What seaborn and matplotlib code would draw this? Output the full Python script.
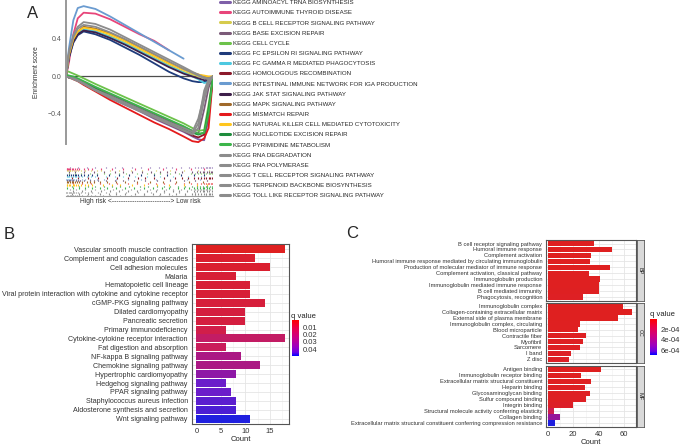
import numpy as np
import pandas as pd
import seaborn as sns
import matplotlib.pyplot as plt
from matplotlib.colors import LinearSegmentedColormap, Normalize
from matplotlib.cm import ScalarMappable
from matplotlib.lines import Line2D

nan = np.nan

# ---- panel A: GSEA running enrichment scores (high vs low risk)
kegg_sets = [
    "KEGG AMINOACYL TRNA BIOSYNTHESIS", "KEGG AUTOIMMUNE THYROID DISEASE",
    "KEGG B CELL RECEPTOR SIGNALING PATHWAY", "KEGG BASE EXCISION REPAIR",
    "KEGG CELL CYCLE", "KEGG FC EPSILON RI SIGNALING PATHWAY",
    "KEGG FC GAMMA R MEDIATED PHAGOCYTOSIS", "KEGG HOMOLOGOUS RECOMBINATION",
    "KEGG INTESTINAL IMMUNE NETWORK FOR IGA PRODUCTION", "KEGG JAK STAT SIGNALING PATHWAY",
    "KEGG MAPK SIGNALING PATHWAY", "KEGG MISMATCH REPAIR",
    "KEGG NATURAL KILLER CELL MEDIATED CYTOTOXICITY", "KEGG NUCLEOTIDE EXCISION REPAIR",
    "KEGG PYRIMIDINE METABOLISM", "KEGG RNA DEGRADATION", "KEGG RNA POLYMERASE",
    "KEGG T CELL RECEPTOR SIGNALING PATHWAY", "KEGG TERPENOID BACKBONE BIOSYNTHESIS",
    "KEGG TOLL LIKE RECEPTOR SIGNALING PATHWAY",
]
kegg_colors = [
    "#7E5FA8", "#E8457A", "#D6CB4C", "#7B5A78", "#6CC24A", "#1F3B7A", "#4DC8E0",
    "#8B1A2B", "#6A9BD0", "#3D1F4A", "#A0692A", "#E41A1C", "#FFC61E", "#1E8C3C",
    "#3CB54A", "#8C8C8C", "#8C8C8C", "#8C8C8C", "#8C8C8C", "#8C8C8C",
]
es_rank = [0, 2, 5, 8, 12, 20, 30, 40, 50, 60, 70, 80, 86, 90, 94, 97, 100]
es_scores = [
    [0, -0.01, -0.02, -0.04, -0.08, -0.15, -0.23, -0.30, -0.37, -0.45, -0.52, -0.59, -0.64, -0.67, -0.68, -0.45, 0],
    [0, 0.15, 0.45, 0.62, 0.68, 0.67, 0.61, 0.53, 0.45, 0.38, 0.28, nan, nan, nan, nan, nan, nan],
    [0, 0.24, 0.40, 0.47, 0.50, 0.48, 0.43, 0.36, 0.28, 0.20, 0.12, 0.05, 0.02, 0.00, -0.02, -0.01, 0],
    [0, -0.01, -0.02, -0.03, -0.06, -0.12, -0.19, -0.26, -0.33, -0.40, -0.47, -0.54, -0.58, -0.61, -0.35, -0.12, 0],
    [0.06, 0.05, 0.03, 0.01, -0.02, -0.08, -0.15, -0.22, -0.29, -0.36, -0.43, -0.50, -0.55, -0.58, -0.57, -0.30, 0],
    [0, 0.20, 0.36, 0.44, 0.48, 0.45, 0.39, 0.31, 0.23, 0.14, 0.05, -0.02, -0.05, -0.06, -0.06, -0.04, 0],
    [0, 0.22, 0.38, 0.46, 0.50, 0.48, 0.42, 0.35, 0.27, 0.19, 0.11, 0.04, 0.00, -0.03, -0.07, -0.06, 0],
    [0, -0.01, -0.02, -0.04, -0.07, -0.14, -0.22, -0.29, -0.36, -0.44, -0.51, -0.58, -0.63, -0.65, -0.62, -0.40, 0],
    [0, 0.30, 0.60, 0.73, 0.75, 0.72, 0.64, 0.55, 0.46, 0.37, 0.28, 0.19, nan, nan, nan, nan, nan],
    [0, 0.21, 0.37, 0.45, 0.49, 0.47, 0.41, 0.34, 0.26, 0.18, 0.10, 0.03, 0.00, -0.02, -0.04, -0.03, 0],
    [0, 0.24, 0.40, 0.48, 0.53, 0.51, 0.46, 0.39, 0.31, 0.23, 0.15, 0.08, 0.04, 0.02, 0.00, -0.01, 0],
    [0, -0.01, -0.03, -0.05, -0.09, -0.16, -0.25, -0.33, -0.41, -0.49, -0.56, -0.64, -0.69, -0.70, -0.66, -0.55, 0],
    [0, 0.23, 0.40, 0.48, 0.52, 0.50, 0.45, 0.38, 0.30, 0.22, 0.14, 0.07, 0.04, 0.02, 0.01, 0.00, 0],
    [0, -0.01, -0.02, -0.04, -0.07, -0.13, -0.21, -0.28, -0.35, -0.42, -0.49, -0.56, -0.60, -0.62, -0.60, -0.35, 0],
    [0.02, 0.01, 0.00, -0.02, -0.05, -0.11, -0.18, -0.25, -0.32, -0.39, -0.46, -0.53, -0.58, -0.61, -0.60, -0.40, 0],
    [0, -0.01, -0.02, -0.04, -0.07, -0.14, -0.21, -0.28, -0.35, -0.42, -0.49, -0.55, -0.59, -0.45, -0.20, -0.05, 0],
    [0, -0.01, -0.03, -0.05, -0.08, -0.15, -0.23, -0.30, -0.37, -0.44, -0.51, -0.58, -0.62, -0.55, -0.25, -0.08, 0],
    [0, 0.27, 0.44, 0.53, 0.58, 0.56, 0.50, 0.42, 0.34, 0.26, 0.18, 0.10, 0.05, 0.02, -0.01, -0.02, 0],
    [0, -0.01, -0.02, -0.04, -0.08, -0.15, -0.22, -0.29, -0.36, -0.43, -0.50, -0.57, -0.61, -0.50, -0.15, -0.03, 0],
    [0, 0.25, 0.42, 0.51, 0.55, 0.53, 0.47, 0.40, 0.32, 0.24, 0.16, 0.08, 0.04, 0.01, -0.02, -0.03, 0],
]
rug_hits = [
    [3, 8, 14, 20, 27, 33, 38, 45, 51, 57, 63, 68, 72, 78, 84, 88, 90, 92, 93, 95, 96, 97, 98, 99],
    [0.5, 1, 1.5, 2, 3, 4, 5, 6, 7.5, 9, 12, 15, 18, 24, 31, 39, 47, 56, 66, 75, 85, 94],
    [0.5, 1.5, 2.5, 3, 4, 5.5, 7, 8, 10, 13, 17, 21, 24, 30, 36, 44, 52, 61, 71, 80, 90, 97],
    [2, 6, 12, 19, 26, 33, 39, 45, 52, 58, 64, 69, 74, 79, 86, 89, 91, 93, 94, 96, 97, 98.5, 99.5],
    [2, 6, 10, 16, 21, 26, 30, 36, 41, 48, 55, 60, 64, 71, 77, 85, 88, 90, 92, 94, 95, 97, 98, 99],
    [1, 2, 3.5, 4.5, 6, 7, 8.5, 10, 12, 15, 18, 21, 29, 36, 43, 51, 60, 69, 78, 87, 94],
    [0.5, 1.5, 2, 3.5, 5, 6, 7, 9, 11, 14, 17, 20, 27, 33, 39, 47, 55, 64, 73, 83, 92],
    [4, 8, 15, 22, 28, 35, 42, 49, 54, 60, 67, 74, 79, 83, 87, 90, 92, 94, 95, 97, 98, 99],
    [0.3, 0.8, 1.2, 2, 2.8, 3.5, 4.5, 5.5, 7, 8.5, 11, 13, 16, 21, 26, 34, 42, 51, 61, 71, 82, 91],
    [1, 2, 3, 4, 5, 6.5, 8, 9.5, 12, 16, 19, 22, 27, 33, 39, 46, 54, 62, 71, 80, 88, 96],
    [0.5, 1.5, 2.5, 4, 5, 6, 7.5, 9, 11, 14, 16, 19, 23, 28, 34, 40, 48, 57, 66, 75, 84, 93],
    [5, 11, 17, 23, 29, 35, 42, 48, 56, 61, 67, 74, 80, 85, 89, 92, 94, 95, 96.5, 97.5, 98.5, 99.5],
    [0.5, 1, 2, 3, 4.5, 5.5, 7, 8, 10, 13, 15, 18, 25, 31, 37, 45, 53, 62, 70, 80, 89, 96],
    [4, 9, 15, 20, 26, 31, 37, 43, 50, 56, 62, 67, 71, 76, 81, 86, 89, 91, 93, 95, 96, 98, 99],
    [1, 5, 9, 13, 18, 23, 28, 34, 40, 46, 53, 59, 65, 70, 76, 80, 84, 87, 89, 91, 93, 94, 96, 97, 99],
    [3, 7, 13, 20, 26, 32, 38, 44, 50, 57, 62, 68, 73, 78, 85, 88, 90, 92, 93, 95, 96, 98],
    [5, 11, 17, 24, 30, 36, 42, 48, 55, 61, 67, 73, 77, 82, 87, 89, 91, 93, 94, 96, 97, 99],
    [0.3, 1, 1.8, 2.5, 3.5, 4.5, 5.5, 7, 8.5, 10, 13, 15, 18, 22, 27, 34, 41, 49, 58, 67, 77, 88],
    [4, 9, 15, 23, 29, 34, 40, 47, 53, 59, 64, 70, 75, 81, 86, 88, 90, 92, 94, 95, 97, 98, 99.5],
    [0.5, 1.5, 2.5, 3.5, 4.5, 6, 7.5, 9, 11, 14.5, 17, 20, 25, 30, 37, 44, 53, 63, 72, 81, 88, 95],
]

# ---- panel B: KEGG enrichment
kegg_terms = [
    "Vascular smooth muscle contraction", "Complement and coagulation cascades",
    "Cell adhesion molecules", "Malaria", "Hematopoietic cell lineage",
    "Viral protein interaction with cytokine and cytokine receptor",
    "cGMP-PKG signaling pathway", "Dilated cardiomyopathy", "Pancreatic secretion",
    "Primary immunodeficiency", "Cytokine-cytokine receptor interaction",
    "Fat digestion and absorption", "NF-kappa B signaling pathway",
    "Chemokine signaling pathway", "Hypertrophic cardiomyopathy",
    "Hedgehog signaling pathway", "PPAR signaling pathway",
    "Staphylococcus aureus infection", "Aldosterone synthesis and secretion",
    "Wnt signaling pathway",
]
kegg_count = [18, 12, 15, 8, 11, 11, 14, 10, 10, 6, 18, 6, 9, 13, 8, 6, 7, 8, 8, 11]
kegg_q = [0.0002, 0.0035, 0.0035, 0.005, 0.005, 0.005, 0.006, 0.007, 0.007, 0.009,
          0.016, 0.013, 0.026, 0.026, 0.036, 0.044, 0.044, 0.045, 0.046, 0.049]

# ---- panel C: GO enrichment
go_terms = [
    "B cell receptor signaling pathway", "Humoral immune response", "Complement activation",
    "Humoral immune response mediated by circulating immunoglobulin",
    "Production of molecular mediator of immune response",
    "Complement activation, classical pathway", "Immunoglobulin production",
    "Immunoglobulin mediated immune response", "B cell mediated immunity",
    "Phagocytosis, recognition",
    "Immunoglobulin complex", "Collagen-containing extracellular matrix",
    "External side of plasma membrane", "Immunoglobulin complex, circulating",
    "Blood microparticle", "Contractile fiber", "Myofibril", "Sarcomere", "I band", "Z disc",
    "Antigen binding", "Immunoglobulin receptor binding",
    "Extracellular matrix structural constituent", "Heparin binding",
    "Glycosaminoglycan binding", "Sulfur compound binding", "Integrin binding",
    "Structural molecule activity conferring elasticity", "Collagen binding",
    "Extracellular matrix structural constituent conferring compression resistance",
]
go_ont = ["BP"] * 10 + ["CC"] * 10 + ["MF"] * 10
go_count = [36, 50, 34, 33, 49, 32, 41, 40, 40, 28,
            59, 66, 55, 25, 24, 30, 28, 25, 18, 17,
            42, 26, 34, 29, 33, 30, 20, 5, 10, 6]
go_q = [1.5e-5, 1.5e-5, 1.6e-5, 1.6e-5, 1.7e-5, 1.8e-5, 2e-5, 2e-5, 2.2e-5, 3e-5,
        1.5e-5, 1.5e-5, 1.6e-5, 1.8e-5, 2e-5, 2.2e-5, 2.5e-5, 2.8e-5, 3.2e-5, 3.5e-5,
        1.6e-5, 1.8e-5, 2e-5, 2.4e-5, 2.6e-5, 3e-5, 4e-5, 1.6e-4, 4.6e-4, 6.8e-4]

sns.set_theme(style="white")
plt.rcParams['font.family'] = ['Liberation Sans', 'DejaVu Sans']

W, H = 680, 448


def box(x0, y0, x1, y1):
    return [x0 / W, 1 - y1 / H, (x1 - x0) / W, (y1 - y0) / H]


cmap = LinearSegmentedColormap.from_list(
    "q", [(0, "#FF0000"), (0.25, "#E80050"), (0.5, "#C90089"),
          (0.75, "#9A00C2"), (0.9, "#6800E7"), (1, "#0000FF")])

fig = plt.figure(figsize=(6.8, 4.48), dpi=100)
fig.patch.set_facecolor("white")

# ---------------- A
rows = []
for name, vals in zip(kegg_sets, es_scores):
    for r, v in zip(es_rank, vals):
        if not np.isnan(v):
            rows.append((name, r, v))
df_es = pd.DataFrame(rows, columns=["pathway", "rank", "es"])
pal_a = dict(zip(kegg_sets, kegg_colors))

ax = fig.add_axes(box(66, 0.5, 213, 144))
ax.axhline(0, color="#4D4D4D", lw=0.9, zorder=1)
sns.lineplot(data=df_es, x="rank", y="es", hue="pathway", hue_order=kegg_sets,
             palette=pal_a, estimator=None, sort=False, lw=1.3, legend=False, ax=ax)
ax.set_xlim(0, 100)
ax.set_ylim(-0.72, 0.81)
ax.set_yticks([-0.4, 0.0, 0.4])
ax.set_xticks([])
ax.set_xlabel("")
ax.set_ylabel("Enrichment score", fontsize=4.8, color="#333333")
ax.yaxis.set_label_coords(-26 / 147, 0.5)
for s in ["top", "right", "bottom"]:
    ax.spines[s].set_visible(False)
ax.spines["left"].set_color("#999999")
ax.spines["left"].set_linewidth(1.4)
ax.tick_params(axis="y", labelsize=5, colors="#555555", length=2, width=0.6, pad=1.5)
ax.patch.set_alpha(0)

ax_r = fig.add_axes(box(66, 167, 213, 196))
n = len(kegg_sets)
for i, (hits, c) in enumerate(zip(rug_hits, kegg_colors)):
    ax_r.vlines(hits, n - i - 1, n - i, color=c, lw=0.8)
ax_r.set_xlim(0, 100)
ax_r.set_ylim(0, n)
ax_r.set_xticks([])
ax_r.set_yticks([])
for s in ["top", "right", "left"]:
    ax_r.spines[s].set_visible(False)
ax_r.spines["bottom"].set_color("#999999")
ax_r.spines["bottom"].set_linewidth(0.8)
fig.text(140 / W, 1 - 201 / H, "High risk <" + "-" * 26 + "> Low risk",
         ha="center", va="center", fontsize=4.8, color="#333333")

handles = [Line2D([], [], color=c, lw=2.2) for c in kegg_colors]
fig.legend(handles, kegg_sets, loc="upper left", bbox_to_anchor=(220 / W, 1.0),
           frameon=False, fontsize=4.4, handlelength=1.7, handletextpad=0.5,
           labelspacing=0.8, borderaxespad=0, borderpad=0)


def style_bar_axes(a):
    for s in a.spines.values():
        s.set_color("#555555")
        s.set_linewidth(0.8)
    a.set_axisbelow(True)
    a.grid(which="major", color="#E5E5E5", lw=0.6)
    a.grid(which="minor", axis="x", color="#F0F0F0", lw=0.4)
    a.set_ylabel("")
    a.tick_params(axis="y", length=2, width=0.5, color="#333333", pad=1)
    a.tick_params(axis="x", length=2, width=0.5, color="#333333", pad=1)


# ---------------- B
df_b = pd.DataFrame({"term": kegg_terms, "count": kegg_count, "q": kegg_q})
norm_b = Normalize(0.0002, 0.049)
pal_b = {t: cmap(norm_b(q)) for t, q in zip(kegg_terms, kegg_q)}
ax_b = fig.add_axes(box(192, 244, 289, 424))
sns.barplot(data=df_b, x="count", y="term", hue="term", order=kegg_terms,
            palette=pal_b, legend=False, width=0.9, linewidth=0, ax=ax_b)
ax_b.set_xlim(-0.9, 18.9)
ax_b.set_ylim(19.6, -0.6)
ax_b.set_xticks([0, 5, 10, 15])
ax_b.set_xticks([2.5, 7.5, 12.5, 17.5], minor=True)
ax_b.tick_params(axis="x", which="minor", length=0)
style_bar_axes(ax_b)
ax_b.tick_params(axis="y", labelsize=5.1, labelcolor="#333333")
ax_b.tick_params(axis="x", labelsize=5.5, labelcolor="#333333")
ax_b.set_xlabel("Count", fontsize=5.5, labelpad=0.5, color="#222222")

cax_b = fig.add_axes(box(292, 320, 299, 356))
cb = fig.colorbar(ScalarMappable(norm=norm_b, cmap=cmap), cax=cax_b)
cb.outline.set_visible(False)
cb.set_ticks([0.01, 0.02, 0.03, 0.04])
cb.set_ticklabels(["0.01", "0.02", "0.03", "0.04"])
cax_b.invert_yaxis()
cax_b.tick_params(labelsize=5.5, length=1.5, color="white", pad=1, labelcolor="#333333")
fig.text(291 / W, 1 - 316 / H, "q value", fontsize=5.5, va="center", ha="left", color="#222222")

# ---------------- C
df_c = pd.DataFrame({"term": go_terms, "ont": go_ont, "count": go_count, "q": go_q})
norm_c = Normalize(1.5e-5, 6.8e-4)
pal_c = {t: cmap(norm_c(q)) for t, q in zip(go_terms, go_q)}
facets = [("BP", 240, 300.5), ("CC", 302.7, 362.7), ("MF", 365.7, 426.7)]
for ont, y0, y1 in facets:
    sub = df_c[df_c["ont"] == ont]
    a = fig.add_axes(box(545.7, y0, 636, y1))
    sns.barplot(data=sub, x="count", y="term", hue="term", order=list(sub["term"]),
                palette=pal_c, legend=False, width=0.9, linewidth=0, ax=a)
    a.set_xlim(-1.6, 69.2)
    a.set_ylim(len(sub) - 0.4, -0.6)
    a.set_xticks([0, 20, 40, 60])
    a.set_xticks([10, 30, 50], minor=True)
    a.tick_params(axis="x", which="minor", length=0)
    style_bar_axes(a)
    a.tick_params(axis="y", labelsize=4.15, labelcolor="#333333", length=1.5)
    if ont != "MF":
        a.tick_params(axis="x", bottom=False, labelbottom=False)
        a.set_xlabel("")
    else:
        a.tick_params(axis="x", labelsize=5.5, labelcolor="#333333")
        a.set_xlabel("Count", fontsize=5.5, labelpad=0.5, color="#222222")
    st = fig.add_axes(box(637, y0, 643.5, y1))
    st.set_facecolor("#D9D9D9")
    st.set_xticks([])
    st.set_yticks([])
    for s in st.spines.values():
        s.set_color("#555555")
        s.set_linewidth(0.6)
    st.text(0.5, 0.5, ont, rotation=-90, ha="center", va="center",
            fontsize=4, color="#222222", transform=st.transAxes)

cax_c = fig.add_axes(box(650, 319, 657, 355))
cb2 = fig.colorbar(ScalarMappable(norm=norm_c, cmap=cmap), cax=cax_c)
cb2.outline.set_visible(False)
cb2.set_ticks([2e-4, 4e-4, 6e-4])
cb2.set_ticklabels(["2e-04", "4e-04", "6e-04"])
cax_c.invert_yaxis()
cax_c.tick_params(labelsize=5.5, length=1.5, color="white", pad=1, labelcolor="#333333")
fig.text(650 / W, 1 - 314 / H, "q value", fontsize=5.5, va="center", ha="left", color="#222222")

# panel letters
fig.text(33 / W, 1 - 13 / H, "A", fontsize=12, ha="center", va="center")
fig.text(9 / W, 1 - 234 / H, "B", fontsize=12, ha="center", va="center")
fig.text(352 / W, 1 - 233 / H, "C", fontsize=12, ha="center", va="center")

fig.savefig("out.png", dpi=100)
